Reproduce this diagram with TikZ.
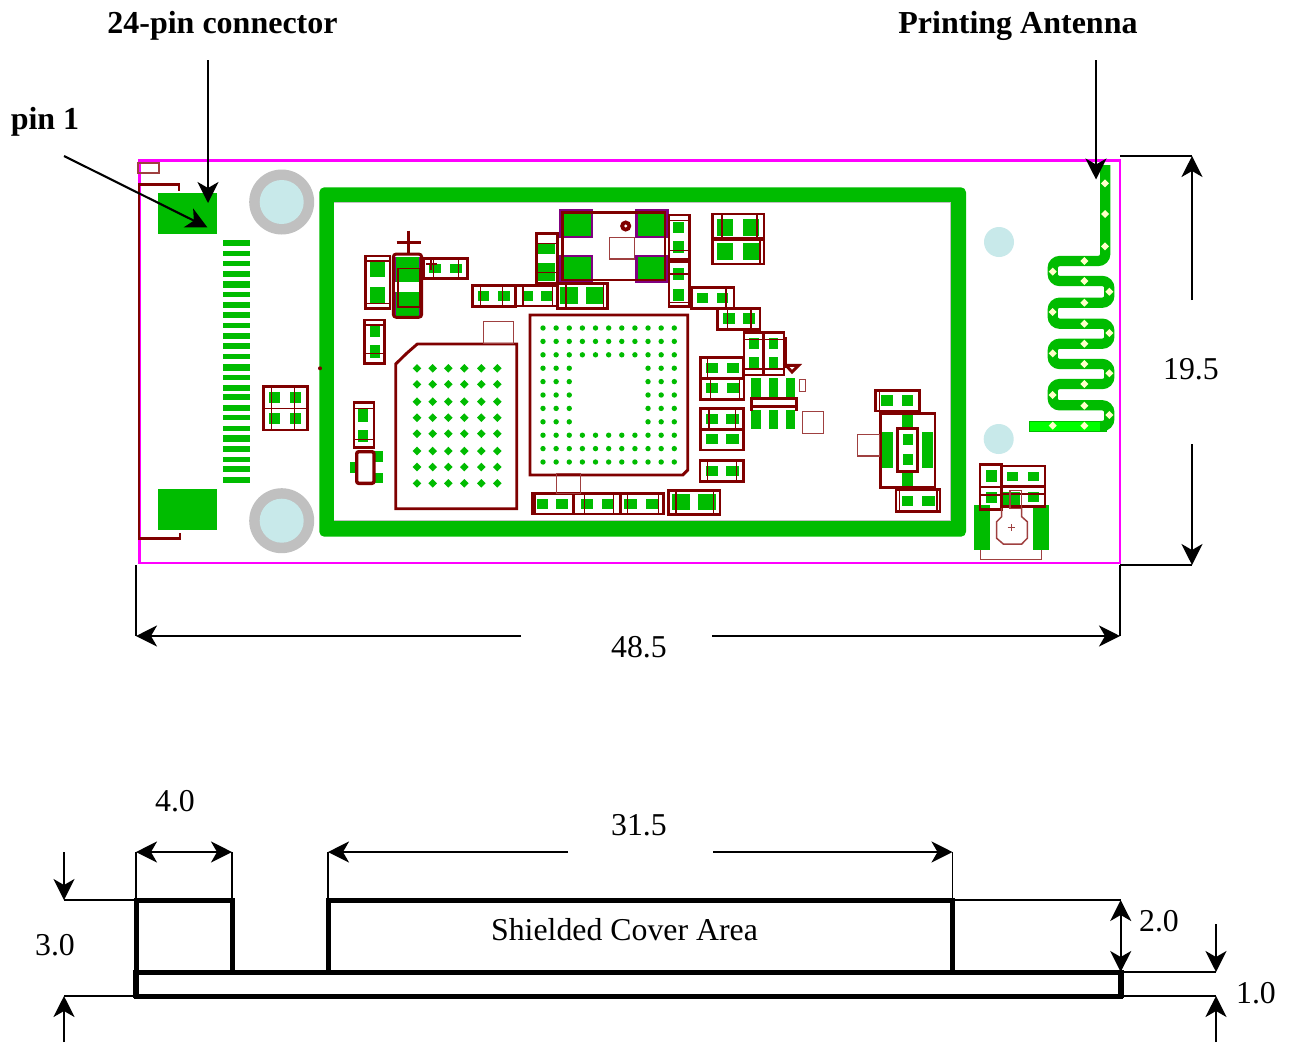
\documentclass[tikz,border=0pt]{standalone}
\usepackage{fontspec}
\setmainfont{Liberation Serif}
\usetikzlibrary{arrows.meta}
\definecolor{cu}{HTML}{7F0000}
\definecolor{gn}{HTML}{00BC00}
\definecolor{brt}{HTML}{00FF00}
\definecolor{mg}{HTML}{FF00FF}
\definecolor{pu}{HTML}{800080}
\definecolor{hole}{HTML}{C8E9EA}
\definecolor{ring}{HTML}{C0C0C0}
\definecolor{via}{HTML}{FFFFC8}
\tikzset{
  thickcu/.style={draw=cu,line width=2.9pt},
  thincu/.style={draw=cu,line width=1.5pt},
  faintcu/.style={draw=cu!75!white,line width=1.5pt},
  pad/.style={fill=gn,draw=none},
  purplepad/.style={fill=gn,draw=pu,line width=2.2pt},
  dim/.style={draw=black,line width=1.8pt},
  dimarrow/.style={draw=black,line width=2.1pt,-{Stealth[length=21pt,width=21pt,inset=6pt]}},
  dimdouble/.style={draw=black,line width=2.1pt,{Stealth[length=21pt,width=21pt,inset=6pt]}-{Stealth[length=21pt,width=21pt,inset=6pt]}},
  bodyline/.style={draw=black,line width=5pt},
  reglabel/.style={font=\fontsize{31.8}{32}\selectfont,inner sep=0pt},
  boldlabel/.style={font=\bfseries\fontsize{32}{32}\selectfont,inner sep=0pt},
}
\begin{document}
\begin{tikzpicture}[x=1pt,y=-1pt]
\useasboundingbox (0,0) rectangle (1293,1042);
\fill[white] (0,0) rectangle (1293,1042);

% --- board outline and connector
\draw[mg,line width=2.8pt] (139.5,160.5) rectangle (1120,563);
\draw[faintcu] (138,163) rectangle (159,173);
\draw[thickcu] (179,190.7) -- (179,184.5) -- (139,184.5) -- (139,538.3) -- (180,538.3) -- (180,533);
\fill[gn] (158.3,192.7) rectangle (217.3,234);
\fill[gn] (158.3,488.7) rectangle (217.3,530);
\foreach \a/\b in {239.7/246.3,250.7/255.7,261/266.3,270.7/277.3,281.3/288,292/297.3,301.7/308,312.3/318.3,322.7/328,332.7/339,
  342.7/349.3,353.7/358.7,364.3/370.7,375/380,385.3/390.7,393.7/400,404.7/411,415.3/420.3,426/431,435.3/441.7,446/452.3,456.7/462,466/472.3,476.7/483.3}
  \fill[gn] (222.7,\a) rectangle (250,\b);

% --- mounting holes
\foreach \yy in {202,520.7}{
  \fill[ring] (281.7,\yy) circle (32.5);
  \fill[hole] (281.7,\yy) circle (22);
}
\fill[hole] (999,242) circle (15);
\fill[hole] (998.7,439) circle (15);

% --- shield ring
\fill[gn,rounded corners=5pt] (319.3,187.3) rectangle (966,536.7);
\fill[white] (334,202.7) rectangle (950.5,520.7);
\draw[ring,line width=1.4pt] (334,202.7) -- (950.5,202.7) -- (950.5,520.7) -- (334,520.7);
\fill[cu] (320,368.3) circle (2);

% --- green pads
\foreach \a/\b/\c/\d in {
 370/261/385.3/277.3, 370/286.7/385.3/303.3,
 429/264/440.7/272.7, 450/264/461.7/272.7,
 370/325.7/380/337.3, 370/345.3/380/358.3,
 477.7/291/489.3/301, 498.3/291/510/301, 521.7/290.7/532.7/301, 540.7/290.7/551.7/301,
 357.7/409.3/368.3/421.7, 357.7/430/368.3/441.7,
 374.3/451/382.7/461.7, 374.3/472.7/382.7/483.3, 350/461.7/356.7/472.7,
 268.7/392.3/280.3/403.3, 289.7/392.3/301.3/403.3, 268.7/413.3/280.3/424.3, 289.7/413.3/301.3/424.3,
 537.3/243.3/555/254.3, 537.3/262.7/555/281,
 560/286.7/578.3/304, 586/286.7/604/304,
 673.3/221.7/684/232.7, 673.3/241/684/252.7, 673.3/268.3/684/280, 673.3/289.3/684/301,
 716.7/219.3/733.3/235.7, 742.7/219.3/759.3/235.7, 716.7/243.3/733.3/260, 742.7/243.3/759.3/260,
 696.7/293.3/708.3/303.3, 716.7/293.3/728.3/303.3,
 723.3/313.3/735/324, 742.7/313.3/754.7/324,
 749.3/337.7/758.7/349.3, 749.3/357.3/758.7/369.3, 769/337.7/778.3/349.3, 769/357.3/778.3/369.3,
 750.7/377.7/761/398.3, 769/377.7/778.3/398.3, 786/377.7/795.3/398.3,
 750.7/410/761/429.3, 769/410/778.3/429.3, 786/410/795.3/429.3,
 706/362.7/717.7/373.3, 727/362.7/738.7/373.3,
 706/383.3/717.7/393.3, 727/383.3/739/393.3,
 706/414/717.7/424, 725.7/414/738.7/424,
 706/434/717.7/444.3, 725.7/434/738.7/444.3,
 706/466/717.7/476, 725.7/466/738.7/476,
 672/494/690/510, 698.3/494/716/510,
 536.7/499.3/548.3/509, 556/499.3/568.3/509,
 581/499.3/592.7/509, 602.3/499.3/614/509,
 624.3/499.3/637.3/509, 645.7/499.3/657.7/509,
 880.7/395/892.7/405.7, 901.7/395/913.3/405.7,
 881.7/432.3/893.3/468.3, 921.7/432.3/933.3/468.3,
 901.7/415/913.3/428.3, 901.7/471.7/913.3/486.7,
 902.7/434/912.7/445.3, 902.7/454/912.7/465.3,
 901.7/495.7/913.3/506, 921.7/495.7/934.7/506,
 974/505/989.7/550, 1033.3/505/1048.7/550,
 986/470/996.7/481.7, 986/491.7/996.7/503.3,
 1006.7/471.7/1018.3/481, 1027.7/471.7/1039.3/481,
 1002.7/491.7/1020/505, 1027.7/491.7/1039.3/501.7
} \fill[gn] (\a,\b) rectangle (\c,\d);

% --- BGA ball grids
\foreach \xx in {417,432.7,448.3,464.3,481.3,497.3}
  \foreach \yy in {368.3,384.3,401.7,417.7,433.7,451,467,483.3}
    \fill[gn] (\xx-4.3,\yy) -- (\xx,\yy-4.3) -- (\xx+4.3,\yy) -- (\xx,\yy+4.3) -- cycle;
\foreach \i in {0,...,10}
  \foreach \j in {0,...,10}{
    \pgfmathtruncatemacro{\inner}{(\i>2 && \i<8 && \j>2 && \j<8) ? 1 : 0}
    \ifnum\inner=0
      \fill[gn] ({543+13.13*\i},{328+13.4*\j}) circle (2.7);
    \fi
  }

% --- central package pads
\draw[purplepad] (560.5,210.5) rectangle (592,237);
\draw[purplepad] (636.5,210.5) rectangle (667.5,237);
\draw[purplepad] (560.5,256) rectangle (592,281);
\draw[purplepad] (636.5,256) rectangle (667.5,281.5);

% --- outlines of parts
\foreach \a/\b/\c/\d in {
 365.3/256/390/308.7,
 424/258.3/467.3/278.3,
 364.3/320/384.3/363.3,
 472.3/285.7/515.7/306.7, 515.7/285.7/557.3/306,
 354/402.3/374/447.7,
 263.3/386.7/307.3/430,
 536.7/233.3/557.3/283.3,
 562.7/212.7/665/280,
 557.3/283.3/607.3/308.3,
 669/215/689.3/259, 669/261.7/689.3/306.7,
 712.7/214/764/238.3, 712.7/239.3/764/264,
 691.7/287.3/734/308.3, 717.3/308.3/760/329.3,
 744/332.3/763.3/375, 763.3/332.3/784/375,
 700.7/357.3/743.3/378.3, 700.7/378.3/744/399.3,
 700.7/408.3/743.3/429.3, 700.7/430/743.3/450,
 700/460.7/743.3/481.7,
 668.3/490.7/720/514.3,
 532.7/493.3/573.3/514, 573.3/493.3/620/514, 620.7/493.3/663.3/514,
 875.7/390.7/919.3/411,
 897.7/428.3/917.7/471.7,
 896/489.3/940/511.7,
 980/464.3/1001.7/509.3,
 1001.7/466/1045/486, 1001.7/486.7/1045/506.7
} \draw[thickcu] (\a,\b) rectangle (\c,\d);
\draw[thickcu] (880.3,413.3) rectangle (935,487.7);

% thin inner lines, horizontal (y, x1, x2)
\foreach \yy/\a/\b in {
 261/366/389, 303.3/366/389,
 325/365/384, 353.7/365/384,
 408.3/354/374, 439.3/354/374,
 408.3/263.3/307.3,
 243.3/537/557, 272.3/537/557,
 220.7/669/689, 250.7/669/689,
 274/669/689, 302.7/669/689,
 339.3/744/784, 369/744/784,
 487/980/1001, 495/980/1001,
 494/1002/1045
} \draw[thincu] (\a,\yy) -- (\b,\yy);
% thin inner lines, vertical (x, y1, y2)
\foreach \xx/\a/\b in {
 433.7/258/278, 458.7/258/278,
 480.7/286/306, 502.7/286/306, 523/286/306, 552.3/286/306,
 271.7/387/430, 294.3/387/430,
 566/283/308, 603.5/283/308,
 722/214/238, 757/214/238, 760/239/264,
 726/287/308, 727.3/308/329, 751/308/329,
 707.7/357/378, 710.7/378/399, 739.3/378/399,
 709/408/429, 735.7/408/429,
 707.7/461/481, 736.7/461/481,
 676/491/514, 713.3/491/514,
 535/493/514, 584.3/493/514, 613.3/493/514, 627.7/493/514, 658.3/493/514,
 879.5/391/411,
 899.5/489/511, 937/489/511
} \draw[thincu] (\xx,\a) -- (\xx,\b);

% tantalum capacitor
\fill[gn] (395,256.7) rectangle (420,281.7);
\fill[gn] (395,291.7) rectangle (420,316);
\draw[pu,line width=2pt] (395,256.7) -- (395,281.7) (420,256.7) -- (420,281.7) (395,291.7) -- (395,316) (420,291.7) -- (420,316);
\draw[draw=cu,line width=3pt,rounded corners=3pt] (393.3,254) rectangle (421.7,317.3);
\draw[thincu,line width=1.6pt] (397.7,268.3) rectangle (419.3,306.7);
\draw[draw=cu,line width=3.4pt] (408.3,230.7) -- (408.3,254) (396.7,242.7) -- (420.7,242.7);
\draw[draw=cu,line width=2pt] (430.7,258.3) -- (430.7,270) (426,264) -- (436.7,264);

% BGA outlines
\draw[thickcu] (395.7,364) -- (406.7,353.3) -- (417.3,344) -- (516.7,344) -- (516.7,508.7) -- (395.7,508.7) -- cycle;
\draw[thickcu] (530,315) -- (687.7,315) -- (687.7,470) -- (682.7,475) -- (530,475) -- cycle;

% faint squares
\foreach \a/\b/\c/\d in {
 483.3/321.7/513.3/343.3,
 609.3/237.3/634.7/259,
 556.7/473.3/580.7/493.3,
 802.3/411.7/823.7/433.3,
 799.3/379.3/805.3/391.7,
 857.3/434.3/879.3/456,
 1010/490.7/1021.7/508.3
} \draw[faintcu] (\a,\b) rectangle (\c,\d);

% diode
\draw[draw=cu,line width=3.4pt,rounded corners=2pt] (356.7,451.7) rectangle (374,483.3);
% fiducial
\fill[cu] (625.7,226) circle (5.6);
\fill[white] (625.7,226) circle (1.6);
% three-lane part
\draw[thickcu,line width=3pt] (751.7,410.7) -- (751.7,398.7) -- (796,398.7) -- (796,410.7) (751.7,406.7) -- (796,406.7);
% triangle and edge line
\draw[thickcu] (786,365.3) -- (798.7,365.3) -- (792,372) -- cycle;
\draw[thincu] (784,338) -- (786,338) -- (786,368);
% switch outline
\draw[faintcu] (1001.7,508) -- (1001.7,516.7) -- (996.7,521.7) -- (996.7,538.3) -- (1003.3,544) -- (1021.7,544) -- (1027.3,538.3) -- (1027.3,521.7) -- (1021.7,516.7) -- (1021.7,508);
\draw[faintcu] (1011.3,524) -- (1011.3,531.4) (1007.6,527.7) -- (1015,527.7);
\draw[faintcu] (980.7,550) -- (980.7,559.3) -- (1041.7,559.3) -- (1041.7,550);

% --- antenna
\fill[brt,draw=gn,line width=1pt] (1029.3,421.7) rectangle (1106.7,431.7);
\draw[gn,line width=10.2pt,rounded corners=7pt]
  (1105.2,165) -- (1105.2,261) -- (1052.7,261) -- (1052.7,281) -- (1109.3,281) -- (1109.3,302.7)
  -- (1052.7,302.7) -- (1052.7,323.7) -- (1109.3,323.7) -- (1109.3,343.7)
  -- (1052.7,343.7) -- (1052.7,364) -- (1109.3,364) -- (1109.3,384)
  -- (1052.7,384) -- (1052.7,405.3) -- (1109.3,405.3) -- (1109.3,426) -- (1100,426);
\foreach \xx/\yy in {1105/183.3,1105/214,1105/246.3,1084.3/261,1052.7/271.7,1084.3/281,1109.3/291.7,1084.3/302.7,
  1052.7/312,1084.3/323.7,1109.3/333,1084.3/343.7,1052.7/353.3,1084.3/364,1109.3/373.3,1084.3/384,
  1052.7/395,1084.3/405.7,1109.3/415,1084.3/425.7,1052.7/425.7}
  \fill[via] (\xx-4,\yy) -- (\xx,\yy-4) -- (\xx+4,\yy) -- (\xx,\yy+4) -- cycle;

% --- top labels and leaders
\node[boldlabel] (conlabel) at (222.5,26) {24-pin connector};
\node[boldlabel] (antlabel) at (1018,26) {Printing Antenna};
\node[boldlabel] (pinlabel) at (45,122) {pin 1};
\coordinate (conA) at (208,60);   \coordinate (conB) at (208,203);
\coordinate (antA) at (1096,60);  \coordinate (antB) at (1096,179.5);
\coordinate (pinA) at (64,156);   \coordinate (pinB) at (207.3,227.3);
\draw[dimarrow] (conA) -- (conB);
\draw[dimarrow] (antA) -- (antB);
\draw[dimarrow] (pinA) -- (pinB);

% --- board dimensions
\node[reglabel] (dimH) at (1191,369) {19.5};
\node[reglabel] (dimW) at (639,647) {48.5};
\coordinate (rtT) at (1120,156); \coordinate (rtTe) at (1192,156);
\coordinate (rtB) at (1120,565); \coordinate (rtBe) at (1192,565);
\coordinate (rtTs) at (1192,300); \coordinate (rtBs) at (1192,444);
\draw[dim] (rtT) -- (rtTe);
\draw[dim] (rtB) -- (rtBe);
\draw[dimarrow] (rtTs) -- (rtTe);
\draw[dimarrow] (rtBs) -- (rtBe);
\coordinate (lfT) at (136,565);  \coordinate (lfB) at (136,636);
\coordinate (rgT) at (1120,565); \coordinate (rgB) at (1120,636);
\coordinate (lfS) at (521,636);  \coordinate (rgS) at (712,636);
\draw[dim] (lfT) -- (lfB);
\draw[dim] (rgT) -- (rgB);
\draw[dimarrow] (lfS) -- (lfB);
\draw[dimarrow] (rgS) -- (rgB);

% --- side view
\draw[dim] (136,852) -- (136,900);
\draw[dim] (232,852) -- (232,900);
\draw[dim] (328,852) -- (328,900);
\draw[dim] (952.5,852) -- (952.5,900);
\draw[dim] (64,900) -- (136,900);
\draw[dim] (64,996) -- (136,996);
\draw[dim] (952,900) -- (1121,900);
\draw[dim] (1121,972) -- (1216,972);
\draw[dim] (1121,996) -- (1216,996);
\draw[bodyline] (136.3,971.7) -- (136.3,900) -- (232,900) -- (232,971.7);
\draw[bodyline] (328.3,971.7) -- (328.3,900) -- (952.3,900) -- (952.3,971.7);
\draw[bodyline] (136.3,972) rectangle (1120.7,996);
\draw[black,line width=6pt] (136.3,970) -- (136.3,998);
\draw[black,line width=6pt] (1120.7,970) -- (1120.7,998);
\coordinate (a4L) at (136,852); \coordinate (a4R) at (232,852);
\coordinate (a31L) at (328,852); \coordinate (a31Ls) at (568,852);
\coordinate (a31R) at (952.5,852); \coordinate (a31Rs) at (713,852);
\draw[dimdouble] (a4L) -- (a4R);
\draw[dimarrow] (a31Ls) -- (a31L);
\draw[dimarrow] (a31Rs) -- (a31R);
\coordinate (a3T) at (64,900); \coordinate (a3Ts) at (64,852);
\coordinate (a3B) at (64,996); \coordinate (a3Bs) at (64,1042);
\draw[dimarrow] (a3Ts) -- (a3T);
\draw[dimarrow] (a3Bs) -- (a3B);
\coordinate (a2T) at (1120.7,900); \coordinate (a2B) at (1120.7,972);
\draw[dimdouble] (a2T) -- (a2B);
\coordinate (a1T) at (1216,972); \coordinate (a1Ts) at (1216,924);
\coordinate (a1B) at (1216,996); \coordinate (a1Bs) at (1216,1042);
\draw[dimarrow] (a1Ts) -- (a1T);
\draw[dimarrow] (a1Bs) -- (a1B);
\node[reglabel] (d4) at (175,801) {4.0};
\node[reglabel] (d31) at (639,825.5) {31.5};
\node[reglabel] (d3) at (55,945.5) {3.0};
\node[reglabel] (d2) at (1159,921) {2.0};
\node[reglabel] (d1) at (1256,993) {1.0};
\node[reglabel] (shield) at (624.5,929.5) {Shielded Cover Area};
\end{tikzpicture}
\end{document}
